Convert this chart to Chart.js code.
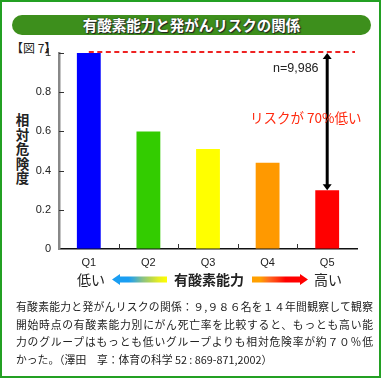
<!DOCTYPE html>
<html>
<head>
<meta charset="utf-8">
<script src="https://cdn.jsdelivr.net/npm/chart.js@4/dist/chart.umd.min.js"></script>
<style>
  body { margin: 0; background: #fff; }
  #wrap { position: relative; width: 381px; height: 378px; overflow: hidden;
    font-family: "Noto Sans CJK JP", "Liberation Sans", sans-serif; }
  #frame { position: absolute; left: 0; top: 0; width: 377px; height: 374px; border: 2px solid #23a023; }
  #title { position: absolute; left: 12px; top: 15px; width: 359px; height: 20px; border-radius: 10px;
    background: #3d8f1c; color: #fff; font-weight: bold; font-size: 14.5px; line-height: 20px; text-align: center;
    text-shadow: 1px 1px 1px #222, 0 0 2px #333; }
  #fig { position: absolute; left: 11px; top: 40px; font-size: 12px; line-height: 16px; color: #222; }
  #ylab { position: absolute; left: 15px; top: 112px; width: 15px; font-size: 13.5px; line-height: 14.6px;
    font-weight: bold; color: #222; text-align: center; }
  canvas { position: absolute; left: 0; top: 0; }
  .note { position: absolute; white-space: nowrap; }
  #nval { left: 273px; top: 60px; font-family: "Liberation Sans", Arial, sans-serif; font-size: 12.5px; line-height: 16px; color: #222; }
  #risk { left: 250px; top: 108px; font-size: 13.5px; line-height: 18px; color: #ff2a10; }
  .lbl { position: absolute; top: 270px; font-size: 14px; line-height: 18px; color: #222; }
  #ability { font-weight: bold; }
  .arrow { position: absolute; top: 274px; height: 11px; }
  #arrLeft { left: 112px; width: 55px;
    background: linear-gradient(to right, #1a9ef2 0%, #1a9ef2 30%, #40aad0 40%, #86c088 55%, #b6d650 70%, #e6ee22 85%, #ffff00 100%);
    clip-path: polygon(0 50%, 8px 0, 8px 2.5px, 100% 2.5px, 100% 8.5px, 8px 8.5px, 8px 100%); }
  #arrRight { left: 252px; width: 56px;
    background: linear-gradient(to right, #ffa000 0%, #ffa000 15%, #ff6a20 30%, #ff3a10 45%, #ff0000 60%, #ff0000 100%);
    clip-path: polygon(0 2.5px, calc(100% - 8px) 2.5px, calc(100% - 8px) 0, 100% 50%, calc(100% - 8px) 100%, calc(100% - 8px) 8.5px, 0 8.5px); }
  #caption { position: absolute; left: 16px; top: 298px; width: 357px; font-size: 10.8px; line-height: 17.5px; color: #222; }
  #caption span { display: block; text-align: justify; text-align-last: justify; white-space: nowrap; }
  #caption span.last { text-align-last: left; }
</style>
</head>
<body>
<div id="wrap">
  <div id="frame"></div>
  <div id="title">有酸素能力と発がんリスクの関係</div>
  <div id="fig">【図 7】</div>
  <div id="ylab">相<br>対<br>危<br>険<br>度</div>
  <canvas id="chart" width="381" height="290"></canvas>
  <div class="note" id="nval">n=9,986</div>
  <div class="note" id="risk">リスクが 70%低い</div>
  <div class="lbl" style="left:77px">低い</div>
  <div class="arrow" id="arrLeft"></div>
  <div class="lbl" id="ability" style="left:174px">有酸素能力</div>
  <div class="arrow" id="arrRight"></div>
  <div class="lbl" style="left:314px">高い</div>
  <div id="caption">
    <span>有酸素能力と発がんリスクの関係：９,９８６名を１４年間観察して観察</span>
    <span>開始時点の有酸素能力別にがん死亡率を比較すると、もっとも高い能</span>
    <span>力のグループはもっとも低いグループよりも相対危険率が約７０％低</span>
    <span class="last">かった。（澤田　享：体育の科学 52 : 869-871,2002）</span>
  </div>
</div>
<script>
const categories = ["Q1", "Q2", "Q3", "Q4", "Q5"];
const relativeRisk = [1.0, 0.6, 0.51, 0.44, 0.3];
const barColors = ["#0000ff", "#33cc00", "#ffff00", "#ff9900", "#ff0000"];
const yTicks = [0, 0.2, 0.4, 0.6, 0.8, 1];

// tick marks inside the axes, the dashed reference line and the arrow
const extras = {
  id: "extras",
  afterDraw(chart) {
    const ctx = chart.ctx;
    const x = chart.scales.x;
    const y = chart.scales.y;
    const left = chart.chartArea.left;
    const bottom = chart.chartArea.bottom;
    ctx.save();

    ctx.strokeStyle = "#333";
    ctx.lineWidth = 1;
    yTicks.slice(1).forEach(v => {
      const py = Math.round(y.getPixelForValue(v)) + 0.5;
      ctx.beginPath();
      ctx.moveTo(left, py);
      ctx.lineTo(left + 5, py);
      ctx.stroke();
    });
    for (let i = 0; i < categories.length - 1; i++) {
      const px = Math.round((x.getPixelForTick(i) + x.getPixelForTick(i + 1)) / 2) + 0.5;
      ctx.beginPath();
      ctx.moveTo(px, bottom);
      ctx.lineTo(px, bottom - 5);
      ctx.stroke();
    }

    // dashed line at the Q1 level
    const top = y.getPixelForValue(relativeRisk[0]) - 1;
    ctx.strokeStyle = "#ee2222";
    ctx.lineWidth = 2;
    ctx.setLineDash([5, 3.5]);
    ctx.beginPath();
    ctx.moveTo(x.getPixelForValue(0), top);
    ctx.lineTo(chart.chartArea.right - 2, top);
    ctx.stroke();
    ctx.setLineDash([]);

    // double arrow from Q1 level down to Q5
    const ax = x.getPixelForValue(4);
    const ay1 = top + 1;
    const ay2 = y.getPixelForValue(relativeRisk[4]);
    ctx.strokeStyle = "#000";
    ctx.fillStyle = "#000";
    ctx.lineWidth = 3;
    ctx.beginPath();
    ctx.moveTo(ax, ay1 + 5);
    ctx.lineTo(ax, ay2 - 5);
    ctx.stroke();
    ctx.beginPath();
    ctx.moveTo(ax, ay1);
    ctx.lineTo(ax - 4.5, ay1 + 6);
    ctx.lineTo(ax + 4.5, ay1 + 6);
    ctx.closePath();
    ctx.fill();
    ctx.beginPath();
    ctx.moveTo(ax, ay2);
    ctx.lineTo(ax - 4.5, ay2 - 6);
    ctx.lineTo(ax + 4.5, ay2 - 6);
    ctx.closePath();
    ctx.fill();
    ctx.restore();
  }
};

const ctx = document.getElementById("chart");

new Chart(ctx, {
  type: "bar",
  data: {
    labels: categories,
    datasets: [
      {
        data: relativeRisk,
        backgroundColor: barColors,
        borderWidth: 0,
        barPercentage: 0.4,
        categoryPercentage: 1.0
      }
    ]
  },
  options: {
    responsive: false,
    animation: false,
    layout: {
      padding: { left: 0, right: 24, top: 53, bottom: 0 }
    },
    plugins: {
      legend: { display: false },
      tooltip: { enabled: false }
    },
    scales: {
      x: {
        afterFit: scale => { scale.height = 41; },
        grid: { drawOnChartArea: false, drawTicks: false },
        border: { display: true, color: "#111", width: 1.5 },
        ticks: {
          padding: 7,
          color: "#222",
          font: { family: "Liberation Sans", size: 11 }
        }
      },
      y: {
        min: 0,
        max: 1,
        afterFit: scale => { scale.width = 59; },
        afterBuildTicks: scale => { scale.ticks = yTicks.map(v => ({ value: v })); },
        grid: { drawOnChartArea: false, drawTicks: false },
        border: { display: true, color: "#888", width: 2.5 },
        ticks: {
          padding: 8,
          color: "#222",
          font: { family: "Liberation Sans", size: 11 },
          callback: v => String(v)
        }
      }
    }
  },
  plugins: [extras]
});
</script>
</body>
</html>
